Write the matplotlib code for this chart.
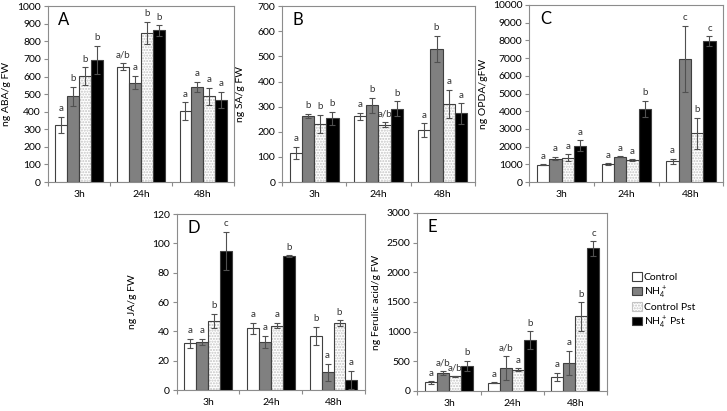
import numpy as np
import matplotlib.pyplot as plt
from matplotlib.patches import Patch

plt.rcParams['font.family'] = ['Lato', 'DejaVu Sans']
plt.rcParams['mathtext.fontset'] = 'custom'
plt.rcParams['mathtext.rm'] = 'Lato'
plt.rcParams['mathtext.it'] = 'Lato:italic'

times = ['3h', '24h', '48h']
treatments = ['Control', 'NH$_4^+$', 'Control Pst', 'NH$_4^+$ Pst']

# ABA (ng/g FW), rows = time, cols = treatment
aba = [[325, 487, 603, 695], [657, 565, 848, 862], [405, 540, 487, 468]]
aba_err = [[45, 55, 50, 80], [22, 38, 62, 30], [50, 30, 48, 45]]
aba_letters = [['a', 'b', 'b', 'b'], ['a/b', 'a', 'b', 'b'], ['a', 'a', 'a', 'a']]

sa = [[115, 263, 232, 253], [262, 305, 228, 292], [208, 530, 310, 273]]
sa_err = [[25, 8, 35, 27], [13, 30, 10, 30], [27, 52, 57, 40]]
sa_letters = [['a', 'b', 'b', 'b'], ['a', 'b', 'a/b', 'b'], ['a', 'b', 'a', 'a']]

opda = [[970, 1320, 1370, 2050], [1010, 1430, 1230, 4130], [1180, 6950, 2750, 7950]]
opda_err = [[30, 100, 200, 300], [60, 30, 50, 470], [150, 1880, 880, 270]]
opda_letters = [['a', 'a', 'a', 'a'], ['a', 'a', 'a', 'b'], ['a', 'c', 'b', 'c']]

ja = [[32, 33, 47, 95], [42, 33, 44, 91.5], [37, 12, 45.5, 7]]
ja_err = [[3, 2, 5, 13], [4, 4, 2, 0.5], [6, 6, 2, 6]]
ja_letters = [['a', 'a', 'b', 'c'], ['a', 'a', 'a', 'b'], ['b', 'a', 'b', 'a']]

fer = [[144, 300, 244, 417], [139, 383, 355, 855], [233, 472, 1255, 2400]]
fer_err = [[20, 30, 10, 90], [5, 200, 25, 150], [75, 200, 240, 125]]
fer_letters = [['a', 'a/b', 'a/b', 'b'], ['a', 'a/b', 'a', 'b'], ['a', 'a', 'b', 'c']]

EDGE = '#404040'
AXC = '#8c8c8c'
FACES = ['white', '#808080', 'white', 'black']
DOTS = '#c4c4c4'


def draw_panel(ax, vals, errs, letters, ymax, ystep, ylabel, tag, label_x):
    vals = np.array(vals, dtype=float)
    errs = np.array(errs, dtype=float)
    x = np.arange(len(times))
    w = 0.19
    for j in range(4):
        pos = x + (j - 1.5) * w
        if j == 2:
            ax.bar(pos, vals[:, j], w, color='white', edgecolor=DOTS,
                   hatch='......', linewidth=0, zorder=2)
            ax.bar(pos, vals[:, j], w, color='none', edgecolor=EDGE,
                   linewidth=0.8, zorder=3)
        else:
            ax.bar(pos, vals[:, j], w, color=FACES[j], edgecolor=EDGE,
                   linewidth=0.8, zorder=3)
        ax.errorbar(pos, vals[:, j], yerr=errs[:, j], fmt='none',
                    ecolor='#505050', elinewidth=0.8, capsize=2.5,
                    capthick=0.8, zorder=4)
        for i in range(len(times)):
            ax.text(pos[i], vals[i, j] + errs[i, j] + ymax * 0.02,
                    letters[i][j], ha='center', va='bottom', fontsize=7,
                    color='#333333', zorder=5)
    ax.set_xlim(-0.5, 2.5)
    ax.set_ylim(0, ymax)
    ax.set_yticks(np.arange(0, ymax + ystep / 2, ystep))
    ax.set_xticks(x)
    ax.set_xticklabels(times)
    ax.set_xticks([-0.5, 0.5, 1.5, 2.5], minor=True)
    ax.tick_params(axis='x', which='major', length=0, labelsize=7.5, pad=6)
    ax.tick_params(axis='x', which='minor', length=3, color=AXC, width=0.8)
    ax.tick_params(axis='y', length=3, color=AXC, width=0.8, labelsize=7.5,
                   pad=2)
    for s in ax.spines.values():
        s.set_color(AXC)
        s.set_linewidth(0.8)
    ax.set_ylabel(ylabel, fontsize=7.5)
    ax.yaxis.set_label_coords(label_x, 0.5)
    ax.text(0.055, 0.92, tag, transform=ax.transAxes, fontsize=12,
            ha='left', va='center')


fig = plt.figure(figsize=(7.27, 4.11), dpi=100)
axA = fig.add_axes([0.066, 0.557, 0.256, 0.428])
axB = fig.add_axes([0.388, 0.557, 0.265, 0.428])
axC = fig.add_axes([0.728, 0.557, 0.267, 0.431])
axD = fig.add_axes([0.243, 0.051, 0.259, 0.428])
axE = fig.add_axes([0.574, 0.049, 0.261, 0.433])

draw_panel(axA, aba, aba_err, aba_letters, 1000, 100, 'ng ABA/g FW', 'A', -0.2)
draw_panel(axB, sa, sa_err, sa_letters, 700, 100, 'ng SA/g FW', 'B', -0.19)
draw_panel(axC, opda, opda_err, opda_letters, 10000, 1000, 'ng OPDA/gFW', 'C', -0.215)
draw_panel(axD, ja, ja_err, ja_letters, 120, 20, 'ng JA/g FW', 'D', -0.21)
draw_panel(axE, fer, fer_err, fer_letters, 3000, 500, 'ng Ferulic acid/g FW', 'E', -0.19)

handles = [
    Patch(facecolor='white', edgecolor=EDGE, linewidth=0.8),
    Patch(facecolor='#808080', edgecolor=EDGE, linewidth=0.8),
    Patch(facecolor='white', edgecolor=DOTS, hatch='......', linewidth=0.8),
    Patch(facecolor='black', edgecolor=EDGE, linewidth=0.8),
]
fig.legend(handles, treatments, loc='upper left',
           bbox_to_anchor=(628 / 727, 1 - 268 / 411), frameon=False,
           fontsize=7.5, handlelength=0.9, handleheight=0.9,
           handletextpad=0.2, labelspacing=0.2, borderaxespad=0)

fig.savefig('out.png', dpi=100)
